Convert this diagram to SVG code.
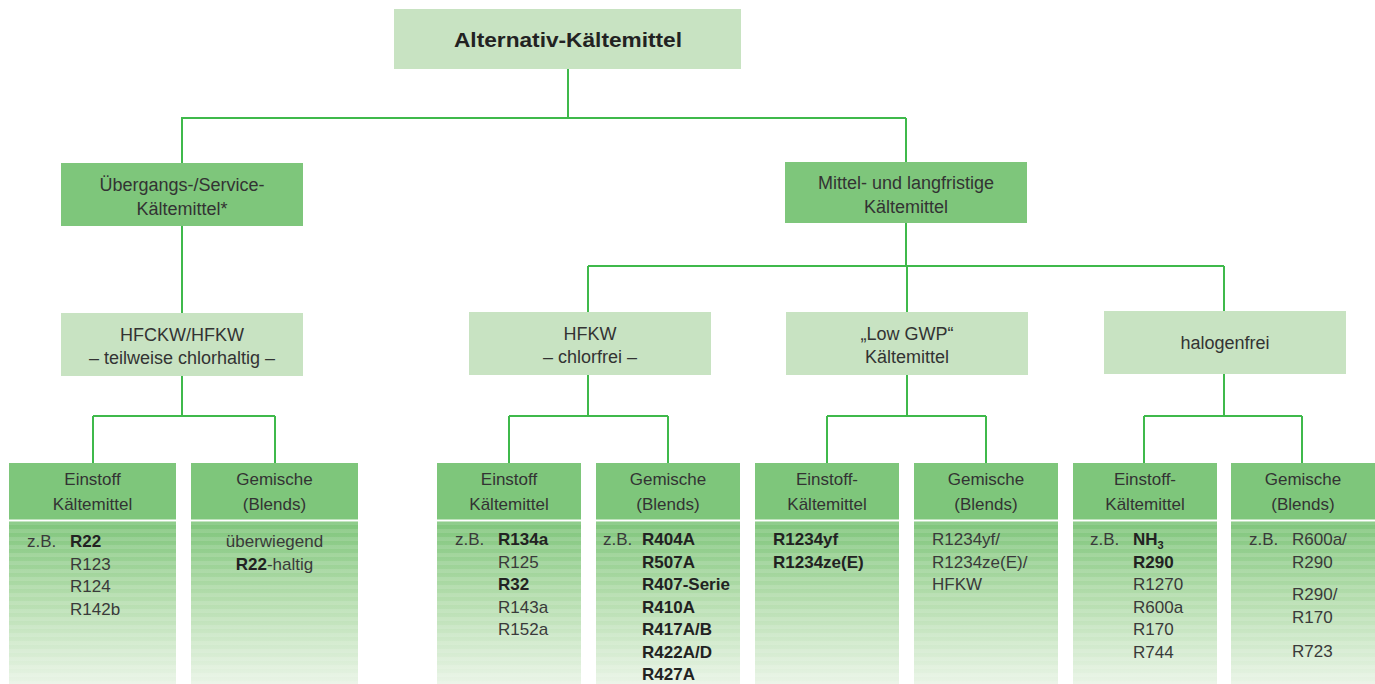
<svg xmlns="http://www.w3.org/2000/svg" width="1375" height="684" viewBox="0 0 1375 684">
<defs>
<linearGradient id="body" x1="0" y1="0" x2="0" y2="1">
<stop offset="0" stop-color="#7fc57b"/>
<stop offset="0.45" stop-color="#b2dcab"/>
<stop offset="1" stop-color="#e9f4e6"/>
</linearGradient>
<pattern id="stripes" x="0" y="521" width="8" height="8" patternUnits="userSpaceOnUse">
<rect x="0" y="0" width="8" height="4" fill="#ffffff" fill-opacity="0.12"/>
</pattern>
<style>
.t{font-family:"Liberation Sans",Arial,sans-serif;fill:#333;font-size:18px;text-anchor:middle}
.h{font-family:"Liberation Sans",Arial,sans-serif;fill:#333;font-size:17px;text-anchor:middle}
.v{font-family:"Liberation Sans",Arial,sans-serif;fill:#3a3a3a;font-size:17px}
.b{font-weight:bold;fill:#222}
.dark{fill:#7ec67b}
.light{fill:#c8e3c2}
.head{fill:#7ec67b}
.bd{fill:url(#body)}
.st{fill:url(#stripes)}
.c{fill:none;stroke:#3fb94b;stroke-width:2}
</style>
</defs>
<rect width="1375" height="684" fill="#ffffff"/>

<g id="connectors">
<path class="c" d="M568,69 V118 M181,118 H906 M182,118 V163 M906,118 V163"/>
<path class="c" d="M182,226 V313 M182,376 V416 M93,416 H275 M93,416 V463 M275,416 V463"/>
<path class="c" d="M906,222 V266 M588,266 H1224 M588,266 V312 M907,266 V312 M1224,266 V311"/>
<path class="c" d="M588,375 V416 M509,416 H668 M509,416 V463 M668,416 V463"/>
<path class="c" d="M907,375 V416 M827,416 H986 M827,416 V463 M986,416 V463"/>
<path class="c" d="M1224,374 V416 M1144,416 H1302 M1144,416 V463 M1302,416 V463"/>
</g>

<g id="root">
<rect class="light" x="394" y="9" width="347" height="60"/>
<text class="t b" x="568" y="47" style="font-size:21px;fill:#222" textLength="228" lengthAdjust="spacingAndGlyphs">Alternativ-Kältemittel</text>
</g>

<g id="uebergang">
<rect class="dark" x="61" y="163" width="242" height="63"/>
<text class="t" x="182" y="191">Übergangs-/Service-</text>
<text class="t" x="182" y="215">Kältemittel*</text>
</g>

<g id="mittel">
<rect class="dark" x="785" y="162" width="242" height="61"/>
<text class="t" x="906" y="189">Mittel- und langfristige</text>
<text class="t" x="906" y="213">Kältemittel</text>
</g>

<g id="hfckw">
<rect class="light" x="61" y="313" width="242" height="63"/>
<text class="t" x="182" y="341">HFCKW/HFKW</text>
<text class="t" x="182" y="364">– teilweise chlorhaltig –</text>
</g>

<g id="hfkw">
<rect class="light" x="469" y="312" width="242" height="63"/>
<text class="t" x="590" y="340">HFKW</text>
<text class="t" x="590" y="363">– chlorfrei –</text>
</g>

<g id="lowgwp">
<rect class="light" x="786" y="312" width="242" height="63"/>
<text class="t" x="907" y="340">„Low GWP“</text>
<text class="t" x="907" y="363">Kältemittel</text>
</g>

<g id="halogenfrei">
<rect class="light" x="1104" y="311" width="242" height="63"/>
<text class="t" x="1225" y="349">halogenfrei</text>
</g>

<g id="leaf1">
<rect class="head" x="9" y="463" width="167" height="56.5"/>
<rect class="bd" x="9" y="521.5" width="167" height="162.5"/>
<rect class="st" x="9" y="521.5" width="167" height="162.5"/>
<text class="h" x="92.5" y="485">Einstoff</text>
<text class="h" x="92.5" y="510">Kältemittel</text>
<text class="v" x="27" y="547">z.B.</text>
<text class="v b" x="70" y="547">R22</text>
<text class="v" x="70" y="569.5">R123</text>
<text class="v" x="70" y="592">R124</text>
<text class="v" x="70" y="614.5">R142b</text>
</g>

<g id="leaf2">
<rect class="head" x="191" y="463" width="167" height="56.5"/>
<rect class="bd" x="191" y="521.5" width="167" height="162.5"/>
<rect class="st" x="191" y="521.5" width="167" height="162.5"/>
<text class="h" x="274.5" y="485">Gemische</text>
<text class="h" x="274.5" y="510">(Blends)</text>
<text class="v" x="274.5" y="547" text-anchor="middle">überwiegend</text>
<text class="v" x="274.5" y="569.5" text-anchor="middle"><tspan class="b">R22</tspan>-haltig</text>
</g>

<g id="leaf3">
<rect class="head" x="437" y="463" width="144" height="56.5"/>
<rect class="bd" x="437" y="521.5" width="144" height="162.5"/>
<rect class="st" x="437" y="521.5" width="144" height="162.5"/>
<text class="h" x="509" y="485">Einstoff</text>
<text class="h" x="509" y="510">Kältemittel</text>
<text class="v" x="455" y="545">z.B.</text>
<text class="v b" x="498" y="545">R134a</text>
<text class="v" x="498" y="567.5">R125</text>
<text class="v b" x="498" y="590">R32</text>
<text class="v" x="498" y="612.5">R143a</text>
<text class="v" x="498" y="635">R152a</text>
</g>

<g id="leaf4">
<rect class="head" x="596" y="463" width="144" height="56.5"/>
<rect class="bd" x="596" y="521.5" width="144" height="162.5"/>
<rect class="st" x="596" y="521.5" width="144" height="162.5"/>
<text class="h" x="668" y="485">Gemische</text>
<text class="h" x="668" y="510">(Blends)</text>
<text class="v" x="603" y="545">z.B.</text>
<text class="v b" x="642" y="545">R404A</text>
<text class="v b" x="642" y="567.5">R507A</text>
<text class="v b" x="642" y="590">R407-Serie</text>
<text class="v b" x="642" y="612.5">R410A</text>
<text class="v b" x="642" y="635">R417A/B</text>
<text class="v b" x="642" y="657.5">R422A/D</text>
<text class="v b" x="642" y="680">R427A</text>
</g>

<g id="leaf5">
<rect class="head" x="755" y="463" width="144" height="56.5"/>
<rect class="bd" x="755" y="521.5" width="144" height="162.5"/>
<rect class="st" x="755" y="521.5" width="144" height="162.5"/>
<text class="h" x="827" y="485">Einstoff-</text>
<text class="h" x="827" y="510">Kältemittel</text>
<text class="v b" x="773" y="545">R1234yf</text>
<text class="v b" x="773" y="567.5">R1234ze(E)</text>
</g>

<g id="leaf6">
<rect class="head" x="914" y="463" width="144" height="56.5"/>
<rect class="bd" x="914" y="521.5" width="144" height="162.5"/>
<rect class="st" x="914" y="521.5" width="144" height="162.5"/>
<text class="h" x="986" y="485">Gemische</text>
<text class="h" x="986" y="510">(Blends)</text>
<text class="v" x="932" y="545">R1234yf/</text>
<text class="v" x="932" y="567.5">R1234ze(E)/</text>
<text class="v" x="932" y="590">HFKW</text>
</g>

<g id="leaf7">
<rect class="head" x="1073" y="463" width="144" height="56.5"/>
<rect class="bd" x="1073" y="521.5" width="144" height="162.5"/>
<rect class="st" x="1073" y="521.5" width="144" height="162.5"/>
<text class="h" x="1145" y="485">Einstoff-</text>
<text class="h" x="1145" y="510">Kältemittel</text>
<text class="v" x="1090" y="545">z.B.</text>
<text class="v b" x="1133" y="545">NH<tspan dy="4" style="font-size:11px">3</tspan></text>
<text class="v b" x="1133" y="567.5">R290</text>
<text class="v" x="1133" y="590">R1270</text>
<text class="v" x="1133" y="612.5">R600a</text>
<text class="v" x="1133" y="635">R170</text>
<text class="v" x="1133" y="657.5">R744</text>
</g>

<g id="leaf8">
<rect class="head" x="1231" y="463" width="144" height="56.5"/>
<rect class="bd" x="1231" y="521.5" width="144" height="162.5"/>
<rect class="st" x="1231" y="521.5" width="144" height="162.5"/>
<text class="h" x="1303" y="485">Gemische</text>
<text class="h" x="1303" y="510">(Blends)</text>
<text class="v" x="1249" y="545">z.B.</text>
<text class="v" x="1292" y="545">R600a/</text>
<text class="v" x="1292" y="567.5">R290</text>
<text class="v" x="1292" y="600">R290/</text>
<text class="v" x="1292" y="622.5">R170</text>
<text class="v" x="1292" y="657">R723</text>
</g>
</svg>
